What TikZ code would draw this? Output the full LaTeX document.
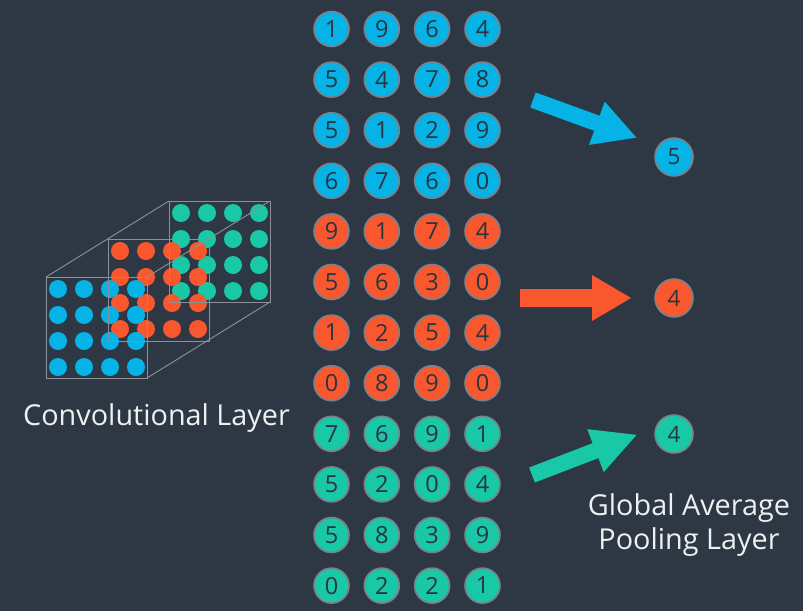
\documentclass[tikz,border=0pt]{standalone}
\usepackage{fontspec}
\setmainfont{Open Sans}
\usetikzlibrary{calc}
\definecolor{bg}{HTML}{2E3845}
\definecolor{cblue}{HTML}{05B3E6}
\definecolor{corange}{HTML}{F9582F}
\definecolor{cteal}{HTML}{18C8A6}
\definecolor{ring}{HTML}{7C8088}
\definecolor{digit}{HTML}{2A3440}
\definecolor{wire}{HTML}{8C9199}
\definecolor{txt}{HTML}{EEF0F2}
\begin{document}
\begin{tikzpicture}[x=1pt,y=-1pt,
  num/.style={circle,draw=ring,line width=1.6pt,minimum size=35pt,inner sep=0pt,text=digit,font=\fontsize{23.5}{23.5}\selectfont},
  outnum/.style={num,minimum size=38pt,font=\fontsize{22.5}{22.5}\selectfont},
  dot/.style={circle,inner sep=0pt,minimum size=18pt},
  wireline/.style={draw=wire,line width=0.9pt},
  label/.style={text=txt,align=center,font=\fontsize{28.8}{34}\selectfont}]
\fill[bg] (0,0) rectangle (803,611);
\useasboundingbox (0,0) rectangle (803,611);

% ---------- number grid ----------
\foreach \r/\a/\b/\c/\d in {1/1/9/6/4,2/5/4/7/8,3/5/1/2/9,4/6/7/6/0,5/9/1/7/4,6/5/6/3/0,7/1/2/5/4,8/0/8/9/0,9/7/6/9/1,10/5/2/0/4,11/5/8/3/9,12/0/2/2/1}{
  \ifnum\r<5 \def\fc{cblue}\else\ifnum\r<9 \def\fc{corange}\else\def\fc{cteal}\fi\fi
  \pgfmathsetmacro\yy{29+50.6*(\r-1)}
  \node[num,fill=\fc] (g\r-1) at (331.5,\yy) {\a};
  \node[num,fill=\fc] (g\r-2) at (381.8,\yy) {\b};
  \node[num,fill=\fc] (g\r-3) at (432.1,\yy) {\c};
  \node[num,fill=\fc] (g\r-4) at (482.5,\yy) {\d};
}

% ---------- output circles ----------
\node[outnum,fill=cblue] (o1) at (674,157) {5};
\node[outnum,fill=corange] (o2) at (674,298) {4};
\node[outnum,fill=cteal] (o3) at (674,434) {4};

% ---------- fat arrows ----------
\coordinate (a1s) at (533,100);
\coordinate (a2s) at (520,298);
\coordinate (a3s) at (532,475);
\begin{scope}[shift={(a1s)},rotate=-20]
  \fill[cblue] (0,-8) -- (68,-8) -- (68,-23) -- (110,0) -- (68,23) -- (68,8) -- (0,8) -- cycle;
\end{scope}
\begin{scope}[shift={(a2s)}]
  \fill[corange] (0,-9) -- (72,-9) -- (72,-23) -- (111,0) -- (72,23) -- (72,9) -- (0,9) -- cycle;
\end{scope}
\begin{scope}[shift={(a3s)},rotate=21]
  \fill[cteal] (0,-8) -- (68,-8) -- (68,-23) -- (112,0) -- (68,23) -- (68,8) -- (0,8) -- cycle;
\end{scope}

% ---------- convolutional cube ----------
\coordinate (t0) at (169,201);
\coordinate (m0) at (108,239);
\coordinate (f0) at (46,277);
\foreach \i in {0,...,3}{\foreach \j in {0,...,3}{
  \node[dot,fill=cteal] (dt\i\j) at ($(t0)+(12+26*\i,12+26*\j)$) {};}}
\foreach \i in {0,...,3}{\foreach \j in {0,...,3}{
  \node[dot,fill=corange] (do\i\j) at ($(m0)+(12+26*\i,12+26*\j)$) {};}}
\foreach \i in {0,...,3}{\foreach \j in {0,...,3}{
  \node[dot,fill=cblue] (db\i\j) at ($(f0)+(12+26*\i,12+26*\j)$) {};}}
\path[wireline] (t0) rectangle ++(101,101);
\path[wireline] (m0) rectangle ++(101,102);
\path[wireline] (f0) rectangle ++(101,101);
\path[wireline] (f0) -- (t0);
\path[wireline] ($(f0)+(101,0)$) -- ($(t0)+(101,0)$);
\path[wireline] ($(f0)+(101,101)$) -- ($(t0)+(101,101)$);

% ---------- labels ----------
\node[label,anchor=base] (conv) at (156.5,425) {Convolutional Layer};
\node[label,anchor=base] (gap1) at (689,515) {Global Average};
\node[label,anchor=base] (gap2) at (689,549) {Pooling Layer};
\end{tikzpicture}
\end{document}
